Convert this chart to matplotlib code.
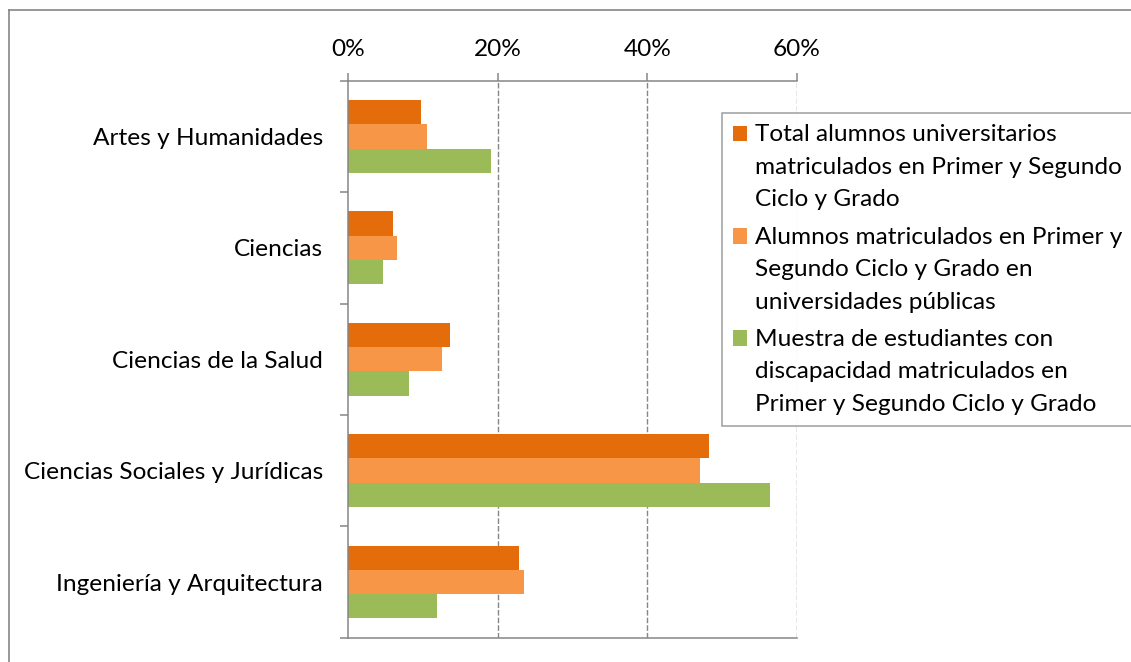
import numpy as np
import matplotlib
matplotlib.use('Agg')
import matplotlib.pyplot as plt
from matplotlib.patches import Patch, Rectangle
from matplotlib.lines import Line2D
from matplotlib.legend_handler import HandlerPatch

# data (percent)
categorias = ['Artes y Humanidades', 'Ciencias', 'Ciencias de la Salud',
              'Ciencias Sociales y Jurídicas', 'Ingeniería y Arquitectura']
total_alumnos = [9.7, 6.0, 13.6, 48.2, 22.8]
alumnos_publicas = [10.5, 6.5, 12.6, 47.1, 23.5]
muestra_discapacidad = [19.1, 4.7, 8.2, 56.4, 11.9]
x_ticks = [0, 20, 40, 60]
x_labels = ['0%', '20%', '40%', '60%']

series_labels = ['Total alumnos universitarios\nmatriculados en Primer y Segundo\nCiclo y Grado',
                 'Alumnos matriculados en Primer y\nSegundo Ciclo y Grado en\nuniversidades públicas',
                 'Muestra de estudiantes con\ndiscapacidad matriculados en\nPrimer y Segundo Ciclo y Grado']
colores = ['#E46C0A', '#F79646', '#9BBB59']

plt.rcParams['font.family'] = ['Lato', 'DejaVu Sans']
fs = 17.6
lsp = 1.68         # line spacing of the legend labels
line_pt = 24.2     # one legend text line, in points
gris = '#868686'


# legend square sits next to the first line of the label, like Excel does
class TopSquare(HandlerPatch):
    def create_artists(self, legend, orig_handle, xdescent, ydescent, width, height, fontsize, trans):
        r = Rectangle((-xdescent, -ydescent + line_pt), width, height,
                      facecolor=orig_handle.get_facecolor(), edgecolor='none', transform=trans)
        return [r]


fig = plt.figure(figsize=(11.31, 6.62), dpi=100)
ax = fig.add_axes([348/1131, 1-637.7/662, (797-348)/1131, (637.7-80.7)/662])

y = np.arange(len(categorias))
h = 0.218
for i, vals in enumerate([total_alumnos, alumnos_publicas, muestra_discapacidad]):
    ax.barh(y + (i-1)*h, vals, height=h, color=colores[i], zorder=3)

ax.set_xlim(0, 60)
ax.set_ylim(len(categorias)-0.5, -0.5)
ax.xaxis.tick_top()
ax.set_xticks(x_ticks)
ax.set_xticklabels(x_labels, fontsize=fs)
ax.set_yticks(y)
ax.set_yticklabels(categorias, fontsize=fs)
ax.set_yticks(np.arange(-0.5, len(categorias)), minor=True)
ax.tick_params(axis='y', which='major', length=0, pad=18)
ax.tick_params(axis='y', which='minor', length=6, color=gris, width=1.1, direction='out')
ax.tick_params(axis='x', length=6, color=gris, width=1.1, pad=9)

for x in x_ticks[1:]:
    ax.axvline(x, color=gris, lw=1.0, linestyle=(0, (4, 1.5)), zorder=1)

for s in ['left', 'top', 'bottom']:
    ax.spines[s].set_color(gris)
    ax.spines[s].set_linewidth(1.1)
    ax.spines[s].set_zorder(4)
ax.spines['right'].set_visible(False)

# figure border (only left and top visible in the crop)
fig.add_artist(Line2D([8.5/1131, 8.5/1131], [0, 1-10/662], color=gris, lw=1.2, transform=fig.transFigure))
fig.add_artist(Line2D([8.5/1131, 1], [1-10/662, 1-10/662], color=gris, lw=1.2, transform=fig.transFigure))

handles = [Patch(facecolor=c, edgecolor='none') for c in colores]
leg = fig.legend(handles, series_labels, loc='upper left',
                 bbox_to_anchor=(721.7/1131, 1-113.3/662),
                 fontsize=fs, frameon=True, fancybox=False, edgecolor=gris,
                 handlelength=0.6, handleheight=0.6, handletextpad=0.3,
                 labelspacing=0.66, borderpad=0.45, borderaxespad=0,
                 handler_map={Patch: TopSquare()})
leg.get_frame().set_linewidth(1.1)
for t in leg.get_texts():
    t.set_linespacing(lsp)

fig.savefig('out.png', dpi=100, facecolor='white')
